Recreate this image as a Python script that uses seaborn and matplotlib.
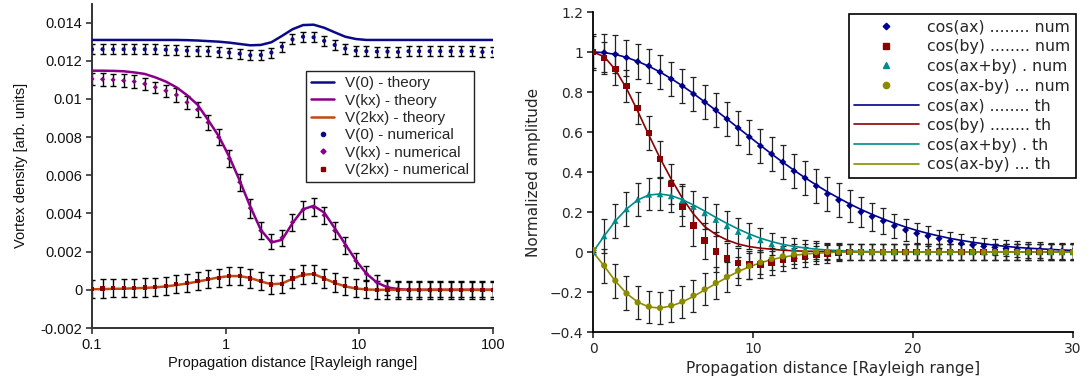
import numpy as np
import pandas as pd
import matplotlib
matplotlib.use("Agg")
import matplotlib.pyplot as plt
import seaborn as sns
from matplotlib.ticker import FuncFormatter, FixedLocator, NullLocator
from matplotlib.lines import Line2D

# ---------------- Left panel data ----------------
xL = [0.1, 0.1199, 0.1438, 0.1725, 0.2069, 0.2481, 0.2976, 0.3569, 0.4281, 0.5134,
      0.6158, 0.7385, 0.8859, 1.0623, 1.274, 1.528, 1.833, 2.198, 2.636, 3.162,
      3.793, 4.548, 5.455, 6.543, 7.848, 9.412, 11.29, 13.54, 16.24, 19.47,
      23.36, 28.01, 33.60, 40.29, 48.33, 57.96, 69.51, 83.36, 100.0]

v0_th = [0.01309, 0.01309, 0.01309, 0.01309, 0.01309, 0.01309, 0.01309, 0.01309, 0.01309, 0.01308,
         0.01306, 0.01303, 0.01300, 0.01295, 0.01288, 0.01281, 0.01283, 0.01297, 0.01330, 0.01365,
         0.01387, 0.01389, 0.01373, 0.01349, 0.01326, 0.01314, 0.01309, 0.01309, 0.01309, 0.01309,
         0.01309, 0.01309, 0.01309, 0.01309, 0.01309, 0.01309, 0.01309, 0.01309, 0.01309]
vk_th = [0.01148, 0.01148, 0.01147, 0.01145, 0.01139, 0.01131, 0.01113, 0.01091, 0.01061, 0.01020,
         0.00970, 0.00890, 0.00806, 0.00698, 0.00572, 0.00436, 0.00314, 0.00248, 0.00262, 0.00349,
         0.00422, 0.00440, 0.00405, 0.00323, 0.00239, 0.00155, 0.00085, 0.00038, 0.00013, 0.00004,
         0.0, 0.0, 0.0, 0.0, 0.0, 0.0, 0.0, 0.0, 0.0]
v2k_th = [0.00003, 0.00004, 0.00005, 0.00006, 0.00008, 0.00010, 0.00013, 0.00018, 0.00025, 0.00033,
          0.00043, 0.00054, 0.00065, 0.00072, 0.00072, 0.00062, 0.00044, 0.00029, 0.00033, 0.00058,
          0.00079, 0.00083, 0.00060, 0.00036, 0.00018, 0.00007, 0.00002, 0.0, 0.0, 0.0,
          0.0, 0.0, 0.0, 0.0, 0.0, 0.0, 0.0, 0.0, 0.0]

v0_num = [0.0126, 0.0126, 0.0126, 0.0126, 0.01262, 0.0126, 0.0126, 0.01258, 0.01257, 0.01253,
          0.01253, 0.0125, 0.01246, 0.01243, 0.01237, 0.01229, 0.0123, 0.01243, 0.01274, 0.01312,
          0.01326, 0.01323, 0.01304, 0.01283, 0.01264, 0.01253, 0.0125, 0.01248, 0.01248, 0.01246,
          0.0125, 0.0125, 0.0125, 0.0125, 0.0125, 0.0125, 0.0125, 0.01246, 0.01246]
vk_num = [0.01105, 0.01103, 0.01100, 0.01096, 0.01091, 0.01079, 0.01061, 0.01043, 0.01021, 0.00982,
          0.00944, 0.00877, 0.00800, 0.00688, 0.00564, 0.00428, 0.00310, 0.00254, 0.00272, 0.00354,
          0.00419, 0.00433, 0.00391, 0.00310, 0.00231, 0.00152, 0.00084, 0.00040, 0.00014, 0.00003,
          0.0, 0.0, 0.0, 0.0, 0.0, 0.0, 0.0, 0.0, 0.0]
v2k_num = [0.00005, 0.00007, 0.00009, 0.00009, 0.00010, 0.00012, 0.00016, 0.00021, 0.00030, 0.00037,
           0.00045, 0.00056, 0.00063, 0.00073, 0.00073, 0.00059, 0.00045, 0.00028, 0.00031, 0.00059,
           0.00080, 0.00084, 0.00059, 0.00038, 0.00021, 0.00009, 0.00003, 0.0, -0.00001, 0.0,
           -0.00001, 0.0, 0.0, -0.00001, 0.0, 0.0, 0.0, 0.0, 0.0]

v0_err = [0.00026] * 39
vk_err = [0.00033, 0.00033, 0.00033, 0.00033, 0.00033, 0.00030, 0.00030, 0.00032, 0.00035, 0.00036,
          0.00038, 0.00040, 0.00042, 0.00042, 0.00045, 0.00050, 0.00045, 0.00040, 0.00040, 0.00045,
          0.00048, 0.00048, 0.00045, 0.00045, 0.00045, 0.00040, 0.00040, 0.00040, 0.00040, 0.00040,
          0.00040, 0.00040, 0.00040, 0.00040, 0.00040, 0.00040, 0.00040, 0.00040, 0.00040]
v2k_err = [0.00048] * 39

# ---------------- Right panel data ----------------
xR = [0.0, 0.698, 1.395, 2.093, 2.791, 3.488, 4.186, 4.884, 5.581, 6.279, 6.977, 7.674,
      8.372, 9.070, 9.767, 10.465, 11.163, 11.860, 12.558, 13.256, 13.953, 14.651, 15.349,
      16.047, 16.744, 17.442, 18.140, 18.837, 19.535, 20.233, 20.930, 21.628, 22.326, 23.023,
      23.721, 24.419, 25.116, 25.814, 26.512, 27.209, 27.907, 28.605, 29.302, 30.0]

a_num = [1.0, 0.997, 0.988, 0.972, 0.952, 0.93, 0.90, 0.865, 0.83, 0.79, 0.75, 0.71, 0.665,
         0.62, 0.575, 0.53, 0.49, 0.45, 0.405, 0.37, 0.33, 0.29, 0.26, 0.232, 0.20, 0.177,
         0.155, 0.13, 0.11, 0.093, 0.08, 0.067, 0.055, 0.043, 0.035, 0.028, 0.023, 0.018,
         0.013, 0.01, 0.008, 0.006, 0.004, 0.003]
b_num = [1.0, 0.97, 0.915, 0.83, 0.72, 0.595, 0.465, 0.34, 0.228, 0.132, 0.057, 0.002, -0.033,
         -0.056, -0.063, -0.063, -0.053, -0.04, -0.032, -0.024, -0.016, -0.008, -0.004, 0.0,
         0.0, 0.0, 0.0, 0.0, 0.0, 0.0, 0.0, 0.0, 0.0, 0.0, 0.0, 0.0, 0.0, 0.0, 0.0, 0.0,
         0.0, 0.0, 0.0, 0.0]
apb_num = [0.0, 0.08, 0.157, 0.215, 0.263, 0.288, 0.29, 0.28, 0.258, 0.227, 0.195, 0.162, 0.13,
           0.102, 0.08, 0.06, 0.04, 0.027, 0.018, 0.013, 0.01, 0.006, 0.004, 0.002, 0.0, 0.0,
           0.0, 0.0, 0.0, 0.0, 0.0, 0.0, 0.0, 0.0, 0.0, 0.0, 0.0, 0.0, 0.0, 0.0, 0.0, 0.0,
           0.0, 0.0]
amb_num = [0.01, -0.068, -0.143, -0.207, -0.252, -0.273, -0.28, -0.268, -0.248, -0.218, -0.187,
           -0.155, -0.125, -0.093, -0.07, -0.052, -0.035, -0.022, -0.012, -0.004, 0.0, 0.0,
           0.0, 0.0, 0.0, 0.0, 0.0, 0.0, 0.0, 0.0, 0.0, 0.0, 0.0, 0.0, 0.0, 0.0, 0.0, 0.0,
           0.0, 0.0, 0.0, 0.0, 0.0, 0.0]

a_th = [1.0, 0.997, 0.988, 0.973, 0.953, 0.929, 0.90, 0.867, 0.831, 0.792, 0.751, 0.709, 0.665,
        0.621, 0.577, 0.533, 0.49, 0.449, 0.409, 0.371, 0.335, 0.301, 0.27, 0.24, 0.213, 0.188,
        0.165, 0.144, 0.125, 0.108, 0.093, 0.08, 0.068, 0.058, 0.049, 0.041, 0.034, 0.028,
        0.023, 0.019, 0.016, 0.013, 0.01, 0.008]
b_th = [1.0, 0.977, 0.912, 0.818, 0.705, 0.585, 0.47, 0.365, 0.27, 0.19, 0.127, 0.088, 0.06,
        0.04, 0.027, 0.019, 0.014, 0.009, 0.006, 0.004, 0.003, 0.002, 0.001, 0.0, 0.0, 0.0,
        0.0, 0.0, 0.0, 0.0, 0.0, 0.0, 0.0, 0.0, 0.0, 0.0, 0.0, 0.0, 0.0, 0.0, 0.0, 0.0,
        0.0, 0.0]
apb_th = [0.0, 0.08, 0.155, 0.215, 0.26, 0.285, 0.29, 0.282, 0.262, 0.235, 0.205, 0.173, 0.143,
          0.115, 0.09, 0.069, 0.052, 0.038, 0.028, 0.02, 0.014, 0.01, 0.007, 0.005, 0.003,
          0.002, 0.001, 0.0, 0.0, 0.0, 0.0, 0.0, 0.0, 0.0, 0.0, 0.0, 0.0, 0.0, 0.0, 0.0,
          0.0, 0.0, 0.0, 0.0]
amb_th = [0.0, -0.07, -0.145, -0.207, -0.25, -0.275, -0.28, -0.27, -0.25, -0.222, -0.19, -0.158,
          -0.127, -0.098, -0.074, -0.054, -0.038, -0.026, -0.017, -0.01, -0.006, -0.003, -0.001,
          0.0, 0.0, 0.0, 0.0, 0.0, 0.0, 0.0, 0.0, 0.0, 0.0, 0.0, 0.0, 0.0, 0.0, 0.0, 0.0,
          0.0, 0.0, 0.0, 0.0, 0.0]

a_err = [0.09, 0.095, 0.095, 0.09, 0.088, 0.085, 0.085, 0.085, 0.085, 0.085, 0.085, 0.085, 0.085,
         0.085, 0.085, 0.085, 0.085, 0.085, 0.085, 0.085, 0.085, 0.083, 0.083, 0.08, 0.075,
         0.07, 0.065, 0.06, 0.055, 0.05, 0.05, 0.045, 0.045, 0.045, 0.04, 0.04, 0.04, 0.04,
         0.04, 0.04, 0.04, 0.04, 0.04, 0.04]
b_err = [0.08, 0.08, 0.08, 0.08, 0.08, 0.085, 0.09, 0.1, 0.1, 0.1, 0.09, 0.1, 0.08, 0.075,
         0.07, 0.065, 0.06, 0.055, 0.05, 0.05, 0.045, 0.045, 0.04, 0.04, 0.04, 0.04, 0.04,
         0.04, 0.04, 0.04, 0.04, 0.04, 0.04, 0.04, 0.04, 0.04, 0.04, 0.04, 0.04, 0.04, 0.04,
         0.04, 0.04, 0.04]
apb_err = [0.01, 0.085, 0.085, 0.085, 0.082, 0.08, 0.08, 0.08, 0.08, 0.08, 0.08, 0.08, 0.075,
           0.07, 0.065, 0.06, 0.055, 0.05, 0.05, 0.045, 0.045, 0.04, 0.04, 0.04, 0.04, 0.04,
           0.04, 0.04, 0.04, 0.04, 0.04, 0.04, 0.04, 0.04, 0.04, 0.04, 0.04, 0.04, 0.04, 0.04,
           0.04, 0.04, 0.04, 0.04]
amb_err = [0.01, 0.085, 0.085, 0.085, 0.082, 0.08, 0.08, 0.08, 0.08, 0.08, 0.08, 0.08, 0.075,
           0.07, 0.065, 0.06, 0.055, 0.05, 0.05, 0.045, 0.045, 0.04, 0.04, 0.04, 0.04, 0.04,
           0.04, 0.04, 0.04, 0.04, 0.04, 0.04, 0.04, 0.04, 0.04, 0.04, 0.04, 0.04, 0.04, 0.04,
           0.04, 0.04, 0.04, 0.04]

left_labels = ["V(0) - theory", "V(kx) - theory", "V(2kx) - theory",
               "V(0) - numerical", "V(kx) - numerical", "V(2kx) - numerical"]
right_labels = ["cos(ax) ........ num", "cos(by) ........ num", "cos(ax+by) . num",
                "cos(ax-by) ... num", "cos(ax) ........ th", "cos(by) ........ th",
                "cos(ax+by) . th", "cos(ax-by) ... th"]

# ---------------- Styling ----------------
sns.set_style("ticks")
plt.rcParams['font.family'] = ['DejaVu Sans']
ARIAL = ['Liberation Sans', 'DejaVu Sans']

C0, CK, C2L, C2N = '#0a0a88', '#880088', '#c04a0c', '#8b0000'
CA, CB, CAPB, CAMB = '#00008b', '#8b0000', '#008b8b', '#8b8b00'

fig = plt.figure(figsize=(10.9, 3.81), dpi=100)
axL = fig.add_axes([92 / 1090, 1 - 328 / 381, 401 / 1090, (328 - 3.5) / 381])
axR = fig.add_axes([593 / 1090, 1 - 332 / 381, 480 / 1090, 320 / 381])

# ---------------- Left panel ----------------
for y, err in [(v0_num, v0_err), (vk_num, vk_err), (v2k_num, v2k_err)]:
    axL.errorbar(xL, y, yerr=err, fmt='none', ecolor='black', elinewidth=1.0,
                 capsize=2.2, capthick=1.0, zorder=2)
for y, c in [(v0_th, C0), (vk_th, CK), (v2k_th, C2L)]:
    sns.lineplot(x=xL, y=y, ax=axL, color=c, linewidth=1.8, estimator=None,
                 sort=False, legend=False, zorder=3)
sns.scatterplot(x=xL, y=v0_num, ax=axL, color=C0, marker='o', s=9, edgecolor='none', zorder=4)
sns.scatterplot(x=xL, y=vk_num, ax=axL, color=CK, marker='D', s=7, edgecolor='none', zorder=4)
sns.scatterplot(x=xL, y=v2k_num, ax=axL, color=C2N, marker='s', s=9, edgecolor='none', zorder=4)

axL.set_xscale('log')
axL.set_xlim(0.1, 100)
axL.set_ylim(-0.002, 0.015)
axL.xaxis.set_major_locator(FixedLocator([0.1, 1, 10, 100]))
axL.xaxis.set_minor_locator(NullLocator())
axL.xaxis.set_major_formatter(FuncFormatter(lambda v, p: '%g' % v))
axL.yaxis.set_major_locator(FixedLocator([-0.002, 0, 0.002, 0.004, 0.006, 0.008, 0.01, 0.012, 0.014]))
axL.yaxis.set_major_formatter(FuncFormatter(lambda v, p: '%g' % round(v, 4)))
for s in ['top', 'right']:
    axL.spines[s].set_visible(False)
for s in ['left', 'bottom']:
    axL.spines[s].set_color('#333333')
    axL.spines[s].set_linewidth(1.4)
axL.tick_params(direction='out', length=4, width=1.2, color='#333333', labelsize=10.5, pad=3)
for t in axL.get_xticklabels() + axL.get_yticklabels():
    t.set_family(ARIAL)
    t.set_color('#111111')
axL.set_xlabel("Propagation distance [Rayleigh range]", family=ARIAL, fontsize=10.5, color='#111111', labelpad=3)
axL.set_ylabel("Vortex density [arb. units]", family=ARIAL, fontsize=10.5, color='#111111', labelpad=9)

hL = [Line2D([], [], color=C0, lw=1.8), Line2D([], [], color=CK, lw=1.8),
      Line2D([], [], color=C2L, lw=1.8),
      Line2D([], [], ls='none', marker='o', color=C0, ms=3),
      Line2D([], [], ls='none', marker='D', color=CK, ms=2.6),
      Line2D([], [], ls='none', marker='s', color=C2N, ms=3)]
legL = axL.legend(hL, left_labels, loc='upper left', bbox_to_anchor=(0.534, 0.792),
                  prop={'family': ARIAL, 'size': 11}, frameon=True, fancybox=False,
                  framealpha=1, edgecolor='#222222', handlelength=1.5, handletextpad=0.7,
                  labelspacing=0.22, borderpad=0.35, borderaxespad=0)
legL.get_frame().set_linewidth(1.0)

# ---------------- Right panel ----------------
for y, err in [(a_num, a_err), (b_num, b_err), (apb_num, apb_err), (amb_num, amb_err)]:
    axR.errorbar(xR, y, yerr=err, fmt='none', ecolor='#222222', elinewidth=0.9,
                 capsize=2.4, capthick=0.9, zorder=2)
for y, c in [(a_th, CA), (b_th, CB), (apb_th, CAPB), (amb_th, CAMB)]:
    sns.lineplot(x=xR, y=y, ax=axR, color=c, linewidth=1.2, estimator=None,
                 sort=False, legend=False, zorder=3)
sns.scatterplot(x=xR, y=a_num, ax=axR, color=CA, marker='D', s=13, edgecolor='none', zorder=4)
sns.scatterplot(x=xR, y=b_num, ax=axR, color=CB, marker='s', s=22, edgecolor='none', zorder=4)
sns.scatterplot(x=xR, y=apb_num, ax=axR, color=CAPB, marker='^', s=22, edgecolor='none', zorder=4)
sns.scatterplot(x=xR, y=amb_num, ax=axR, color=CAMB, marker='o', s=20, edgecolor='none', zorder=4)

axR.set_xlim(0, 30)
axR.set_ylim(-0.4, 1.2)
axR.xaxis.set_major_locator(FixedLocator([0, 10, 20, 30]))
axR.yaxis.set_major_locator(FixedLocator([-0.4, -0.2, 0, 0.2, 0.4, 0.6, 0.8, 1.0, 1.2]))
axR.xaxis.set_major_formatter(FuncFormatter(lambda v, p: ('%g' % round(v, 2)).replace('-', '\u2212')))
axR.yaxis.set_major_formatter(FuncFormatter(lambda v, p: ('%g' % round(v, 2)).replace('-', '\u2212')))
for s in ['top', 'right']:
    axR.spines[s].set_visible(False)
for s in ['left', 'bottom']:
    axR.spines[s].set_color('black')
    axR.spines[s].set_linewidth(1.3)
axR.tick_params(direction='out', length=4, width=1.2, labelsize=10, pad=3)
axR.set_xlabel("Propagation distance [Rayleigh range]", fontsize=11, labelpad=4)
axR.set_ylabel("Normalized amplitude", fontsize=11, labelpad=6)

hR = [Line2D([], [], ls='none', marker='D', color=CA, ms=3.3),
      Line2D([], [], ls='none', marker='s', color=CB, ms=4.5),
      Line2D([], [], ls='none', marker='^', color=CAPB, ms=4.5),
      Line2D([], [], ls='none', marker='o', color=CAMB, ms=4.5),
      Line2D([], [], color=CA, lw=1.2), Line2D([], [], color=CB, lw=1.2),
      Line2D([], [], color=CAPB, lw=1.2), Line2D([], [], color=CAMB, lw=1.2)]
legR = axR.legend(hR, right_labels, loc='upper right', bbox_to_anchor=(1.006, 0.994),
                  fontsize=11.3, frameon=True, fancybox=False, framealpha=1,
                  edgecolor='black', handlelength=4.1, handletextpad=0.55,
                  labelspacing=0.3, borderpad=0.35, borderaxespad=0)
legR.get_frame().set_linewidth(1.2)

fig.savefig("out.png", dpi=100)
